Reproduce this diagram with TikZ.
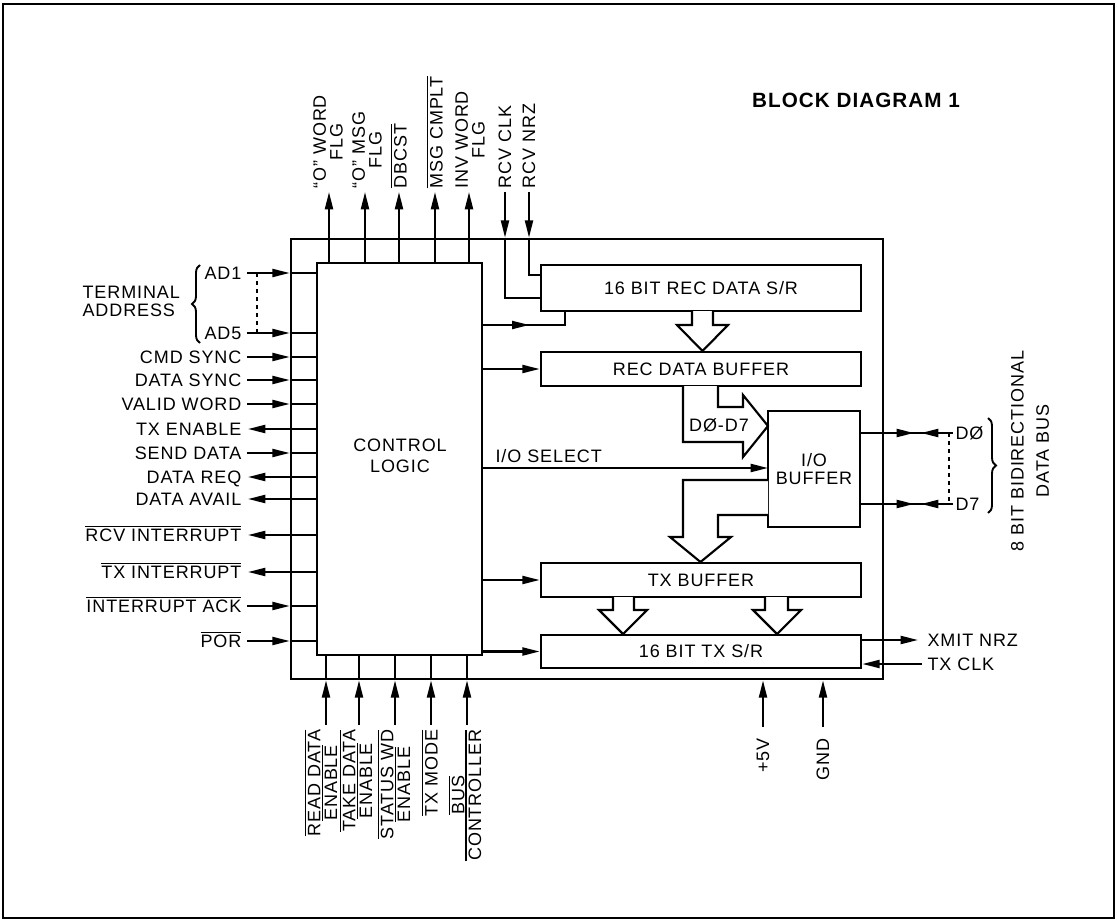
\documentclass[tikz,border=0pt]{standalone}
\usepackage{fontspec}
\setmainfont{Liberation Sans}[LetterSpace=5]
\usetikzlibrary{arrows.meta,fit,decorations.pathreplacing}
\newcommand\ovl[1]{\mbox{\setbox0\hbox{#1}\rlap{\raisebox{\dimexpr\ht0+1.4pt\relax}{\rule{\wd0}{0.9pt}}}\box0}}
\setlength{\lineskiplimit}{-20pt}
\begin{document}
\begin{tikzpicture}[x=0.75pt,y=-0.75pt,
  box/.style={draw, line width=2pt, inner sep=0pt},
  ln/.style={line width=1.6pt},
  arr/.style={line width=1.6pt, -{Triangle[length=13pt,width=6pt]}},
  fat/.style={line width=1.6pt, fill=white, line join=miter},
  lbl/.style={font=\fontsize{13.5}{12.5}\selectfont, inner sep=1pt},
  leftlbl/.style={lbl, anchor=base east, yshift=-4.85pt},
  toplbl/.style={lbl, rotate=90, anchor=west, align=center},
  botlbl/.style={lbl, rotate=90, anchor=east, align=center},
  brc/.style={line width=1.4pt, decorate, decoration={brace, amplitude=6pt}}]
\useasboundingbox (0,0) rectangle (1118,924);
\draw[line width=1.6pt] (3,4) rectangle (1114,918);

\node[font=\bfseries\fontsize{15.5}{18}\selectfont] (title) at (856,100) {BLOCK DIAGRAM 1};

% main boxes
\node[box, fit={(291,239) (883,679)}] (chip) {};
\node[box, fit={(317,263) (482,655)}, fill=white] (ctl) {};
\node[lbl, align=center, font=\fontsize{13.5}{16}\selectfont] (ctlt) at (400,456) {CONTROL\\LOGIC};
\node[box, fit={(541,265) (861,311)}] (sr) {};
\node[lbl] (srt) at (sr.center) {16 BIT REC DATA S/R};
\node[box, fit={(541,352) (861,386)}] (rb) {};
\node[lbl] (rbt) at (rb.center) {REC DATA BUFFER};
\node[box, fit={(768,411) (860,527)}] (io) {};
\node[lbl, align=center, font=\fontsize{13.5}{14}\selectfont] (iot) at (io.center) {I/O\\BUFFER};
\node[box, fit={(541,563) (861,597)}] (tb) {};
\node[lbl] (tbt) at (tb.center) {TX BUFFER};
\node[box, fit={(541,635) (861,668)}] (ts) {};
\node[lbl] (tst) at (ts.center) {16 BIT TX S/R};

% fat arrows
\draw[fat] (692,311) -- (692,325) -- (677,325) -- (702.5,351) -- (728,325) -- (713,325) -- (713,311);
\draw[fat] (683,386) -- (683,442) -- (743,442) -- (743,457) -- (768,426) -- (743,395) -- (743,407) -- (718,407) -- (718,386);
\node[lbl] (d07) at (719,425) {DØ-D7};
\draw[fat] (768,480) -- (683,480) -- (683,537) -- (670,537) -- (700.5,562) -- (731,537) -- (718,537) -- (718,515) -- (768,515);
\draw[fat] (613,597) -- (613,610) -- (599,610) -- (623,634) -- (647,610) -- (634,610) -- (634,597);
\draw[fat] (765,597) -- (765,610) -- (753,610) -- (777,634) -- (801,610) -- (788,610) -- (788,597);

% control to blocks
\coordinate (srj) at (565,325);
\draw[ln] (ctl.east |- srj) -- (srj) -- (srj |- sr.south);
\draw[arr] (ctl.east |- srj) -- ++(46,0);
\draw[arr] (ctl.east |- rb.west) -- (rb.west);
\coordinate (ios) at (768,468);
\draw[arr] (ctl.east |- ios) -- (ios);
\node[lbl, anchor=south west] (iosel) at (494,464) {I/O SELECT};
\draw[arr] (ctl.east |- tb.west) -- (tb.west);
\draw[arr] (ctl.east |- ts.west) -- (ts.west);

% RCV CLK / NRZ
\coordinate (rck) at (505,192);
\coordinate (rnz) at (529,192);
\coordinate (rck2) at (505,298);
\coordinate (rnz2) at (529,275);
\draw[arr] (rck) -- (chip.north -| rck);
\draw[ln] (chip.north -| rck) -- (rck2) -- (sr.west |- rck2);
\draw[arr] (rnz) -- (chip.north -| rnz);
\draw[ln] (chip.north -| rnz) -- (rnz2) -- (sr.west |- rnz2);

% top outputs
\foreach \n/\x in {a/329,b/365,c/399,d/435,e/469} {
  \coordinate (T\n) at (\x,192);
  \draw[arr] (ctl.north -| T\n) -- (T\n);
}
\node[toplbl] (ta) at (328,190) {“O” WORD\\FLG};
\node[toplbl] (tb2) at (367,190) {“O” MSG\\FLG};
\node[toplbl] (tc) at (399,190) {\ovl{DBCST}};
\node[toplbl] (td) at (435,190) {\ovl{MSG CMPLT}};
\node[toplbl] (te) at (470,190) {INV WORD\\FLG};
\node[toplbl] (tf) at (505,190) {RCV CLK};
\node[toplbl] (tg) at (529,190) {RCV NRZ};

% bottom inputs
\foreach \n/\x in {a/326,b/359,c/395,d/431,e/467} {
  \coordinate (B\n) at (\x,725);
  \draw[arr] (B\n) -- (chip.south -| B\n);
  \draw[ln] (chip.south -| B\n) -- (ctl.south -| B\n);
}
\node[botlbl] (ba) at (321,728) {\ovl{READ DATA}\\\ovl{ENABLE}};
\node[botlbl] (bb) at (356,728) {\ovl{TAKE DATA}\\\ovl{ENABLE}};
\node[botlbl] (bc) at (394,728) {\ovl{STATUS WD}\\\ovl{ENABLE}};
\node[botlbl] (bd) at (430,728) {\ovl{TX MODE}};
\node[botlbl] (be) at (465,728) {\ovl{BUS}\\\ovl{CONTROLLER}};

% power
\coordinate (p5) at (763,727);
\coordinate (gnd) at (823,727);
\draw[arr] (p5) -- (chip.south -| p5);
\draw[arr] (gnd) -- (chip.south -| gnd);
\node[botlbl] (p5t) at (763,737) {+5V};
\node[botlbl] (gndt) at (823,737) {GND};

% left inputs
\foreach \n/\y/\t in {ad1/273/,ad5/333/,cs/357/CMD SYNC,ds/380/DATA SYNC,vw/404/VALID WORD,sd/453/SEND DATA,ia/606/{\ovl{INTERRUPT ACK}},por/641/{\ovl{POR}}} {
  \coordinate (L\n) at (247,\y);
  \node[leftlbl] (t\n) at (243,\y) {\t};
  \draw[arr] (L\n) -- (chip.west |- L\n);
  \draw[ln] (chip.west |- L\n) -- (ctl.west |- L\n);
}
% left outputs
\foreach \n/\y/\t in {te/429/TX ENABLE,dr/477/DATA REQ,da/499/DATA AVAIL,ri/535/{\ovl{RCV INTERRUPT}},ti/572/{\ovl{TX INTERRUPT}}} {
  \coordinate (L\n) at (248,\y);
  \node[leftlbl] (t\n) at (243,\y) {\t};
  \draw[arr] (ctl.west |- L\n) -- (L\n);
}
\node[lbl, anchor=base west, yshift=-4.85pt] (ad1t) at (203,273) {AD1};
\node[lbl, anchor=base west, yshift=-4.85pt] (ad5t) at (203,333) {AD5};
\draw[ln, dashed, line width=1.1pt] (257,273) -- (257,333);
\draw[brc] (200,343) -- (200,265);
\node[lbl, align=left, anchor=west, font=\fontsize{13.5}{13.5}\selectfont] (term) at (81,301) {TERMINAL\\ADDRESS};

% right side
\coordinate (xm) at (918,640);
\coordinate (tck) at (922,664);
\draw[arr] (ts.east |- xm) -- (xm);
\draw[arr] (tck) -- (ts.east |- tck);
\node[lbl, anchor=west] (xmt) at (926,640) {XMIT NRZ};
\node[lbl, anchor=west] (tckt) at (926,664) {TX CLK};

\coordinate (d0) at (953,433);
\coordinate (d7) at (953,504);
\draw[ln] (io.east |- d0) -- (d0);
\draw[ln] (io.east |- d7) -- (d7);
\draw[arr] (io.east |- d0) -- (914,433);
\draw[arr] (d0) -- (921,433);
\draw[arr] (io.east |- d7) -- (914,504);
\draw[arr] (d7) -- (921,504);
\draw[ln, dashed, line width=1.1pt] (949,433) -- (949,504);
\node[lbl, anchor=west] (d0t) at (954,433) {DØ};
\node[lbl, anchor=west] (d7t) at (954,504) {D7};
\draw[brc] (988,418) -- (988,513);
\node[lbl, rotate=90, align=center, font=\fontsize{13.5}{19}\selectfont] (busl) at (1030,451) {8 BIT BIDIRECTIONAL\\DATA BUS};
\end{tikzpicture}
\end{document}
